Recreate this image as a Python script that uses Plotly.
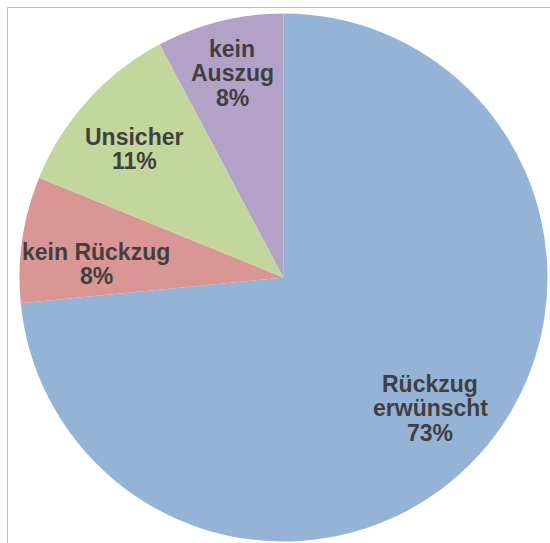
import plotly.graph_objects as go

# ---- data ----
categories = ["Rückzug erwünscht", "kein Rückzug", "Unsicher", "kein Auszug"]
values = [73.45, 7.72, 11.06, 7.77]
label_lines = [["Rückzug", "erwünscht"], ["kein Rückzug"], ["Unsicher"], ["kein", "Auszug"]]

# ---- style ----
W, H = 550, 543
colors = ["#95B3D7", "#D99694", "#C3D69B", "#B3A2C7"]
text_color = "#404040"
font_family = "Liberation Sans, Arial, sans-serif"
font_size = 23
line_step = 24.5
# label block centres in pixels (x, y from top)
label_centers = [(430, 408), (96, 264), (134, 149), (232, 73)]

cx, cy, R = 283.5, 277.5, 264.0

def px(x):
    return x / W

def py(y):
    return 1 - y / H

fig = go.Figure(go.Pie(
    labels=categories,
    values=values,
    sort=False,
    direction="clockwise",
    rotation=0,
    marker=dict(colors=colors, line=dict(width=0)),
    textinfo="none",
    hoverinfo="label+percent",
    showlegend=False,
    domain=dict(x=[px(cx - R), px(cx + R)], y=[py(cy + R), py(cy - R)]),
))

total = sum(values)
annotations = []
for lines, v, (lx, ly) in zip(label_lines, values, label_centers):
    all_lines = lines + [f"{round(100 * v / total)}%"]
    n = len(all_lines)
    for i, t in enumerate(all_lines):
        yy = ly + (i - (n - 1) / 2) * line_step
        annotations.append(dict(
            x=px(lx), y=py(yy), xref="paper", yref="paper",
            text=f"<b>{t}</b>", showarrow=False,
            xanchor="center", yanchor="middle",
            font=dict(family=font_family, size=font_size, color=text_color),
        ))

shapes = [
    dict(type="line", xref="paper", yref="paper", x0=px(7.5), x1=1.0, y0=py(7.5), y1=py(7.5),
         line=dict(color="#BFBFBF", width=1)),
    dict(type="line", xref="paper", yref="paper", x0=px(7.5), x1=px(7.5), y0=py(7.5), y1=0.0,
         line=dict(color="#BFBFBF", width=1)),
]

fig.update_layout(
    width=W, height=H,
    margin=dict(l=0, r=0, t=0, b=0),
    paper_bgcolor="white",
    plot_bgcolor="white",
    annotations=annotations,
    shapes=shapes,
)

fig.write_html("out.html")
